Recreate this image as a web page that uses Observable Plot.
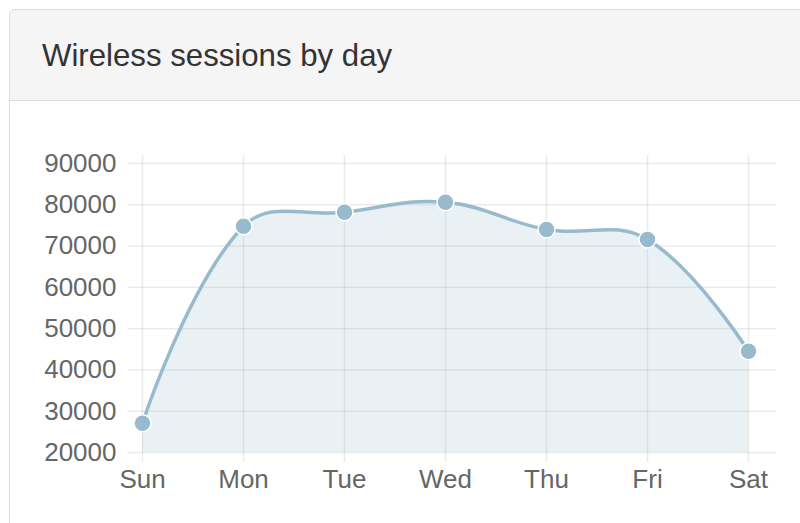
<!DOCTYPE html>
<html><head><meta charset="utf-8">
<script src="https://cdn.jsdelivr.net/npm/d3@7"></script>
<script src="https://cdn.jsdelivr.net/npm/@observablehq/plot@0.6"></script>
<style>
html,body{margin:0;padding:0;background:#fff;width:800px;height:523px;overflow:hidden;font-family:"Liberation Sans",Arial,Helvetica,sans-serif;}
#panel{position:absolute;left:9px;top:9px;width:900px;height:600px;border:1px solid #ddd;border-radius:5px;}
#header{position:absolute;left:0;top:0;right:0;height:90px;background:#f5f5f5;border-bottom:1px solid #ddd;border-radius:5px 5px 0 0;}
#title{position:absolute;left:32px;top:30px;font-size:31.2px;line-height:31px;color:#333;white-space:nowrap;}
#chart{position:absolute;left:0;top:101px;width:800px;height:422px;}
</style>
</head><body>
<div id="panel"><div id="header"><div id="title">Wireless sessions by day</div></div></div>
<div id="chart"></div>
<script>
const days = ["Sun", "Mon", "Tue", "Wed", "Thu", "Fri", "Sat"];
const sessions = [27100, 74800, 78200, 80600, 74000, 71600, 44500];
const yTicks = [20000, 30000, 40000, 50000, 60000, 70000, 80000, 90000];

const data = days.map((day, i) => ({day, value: sessions[i]}));

// Bezier spline like Chart.js v1 (tension 0.4, zero tension at the end points)
class ChartJsCurve {
  constructor(ctx) { this._context = ctx; }
  areaStart() { this._line = 0; }
  areaEnd() { this._line = NaN; }
  lineStart() { this._pts = []; }
  point(x, y) { this._pts.push([+x, +y]); }
  lineEnd() {
    const p = this._pts, n = p.length, c = this._context;
    if (n) {
      if (this._line) c.lineTo(p[0][0], p[0][1]); else c.moveTo(p[0][0], p[0][1]);
      const ctrl = p.map((cur, i) => {
        const t = (i > 0 && i < n - 1) ? 0.4 : 0;
        const prev = p[i - 1] || cur, next = p[i + 1] || cur;
        const d01 = Math.hypot(cur[0] - prev[0], cur[1] - prev[1]);
        const d12 = Math.hypot(next[0] - cur[0], next[1] - cur[1]);
        const s = d01 + d12;
        const fa = s ? t * d01 / s : 0, fb = s ? t * d12 / s : 0;
        return {
          prev: [cur[0] - fa * (next[0] - prev[0]), cur[1] - fa * (next[1] - prev[1])],
          next: [cur[0] + fb * (next[0] - prev[0]), cur[1] + fb * (next[1] - prev[1])]
        };
      });
      for (let i = 1; i < n; i++) {
        c.bezierCurveTo(ctrl[i - 1].next[0], ctrl[i - 1].next[1], ctrl[i].prev[0], ctrl[i].prev[1], p[i][0], p[i][1]);
      }
    }
    if (this._line || (this._line !== 0 && n === 1)) c.closePath();
    this._line = 1 - this._line;
  }
}
const chartjsCurve = (ctx) => new ChartJsCurve(ctx);

const base = "rgb(151,187,205)";
const font = '"Liberation Sans", Arial, Helvetica, sans-serif';

const chart = Plot.plot({
  width: 800,
  height: 422,
  marginLeft: 128,
  marginRight: 24,
  marginTop: 54,
  marginBottom: 61,
  x: {type: "point", domain: days, range: [140, 750], padding: 0},
  y: {domain: [yTicks[0], yTicks[yTicks.length - 1]], range: [351, 62]},
  style: {fontFamily: font, fontSize: "26px", color: "#666", background: "transparent", overflow: "visible"},
  marks: [
    Plot.ruleY(yTicks, {stroke: "#000", strokeOpacity: 0.08, strokeWidth: 1.5}),
    Plot.ruleX(days, {x: d => d, stroke: "#000", strokeOpacity: 0.08, strokeWidth: 1.5}),
    Plot.areaY(data, {x: "day", y1: yTicks[0], y2: "value", curve: chartjsCurve, fill: base, fillOpacity: 0.2}),
    Plot.line(data, {x: "day", y: "value", curve: chartjsCurve, stroke: base, strokeWidth: 3.5}),
    Plot.dot(data, {x: "day", y: "value", r: 8.5, fill: base, stroke: "#fff", strokeWidth: 1.5}),
    Plot.axisY(yTicks, {tickSize: 0, tickPadding: 12, fontSize: 26, fill: "#666", tickFormat: d => String(d), label: null}),
    Plot.axisX(days, {tickSize: 0, tickPadding: 7, fontSize: 26, fill: "#666", label: null})
  ]
});
document.getElementById("chart").appendChild(chart);
</script>
</body></html>
